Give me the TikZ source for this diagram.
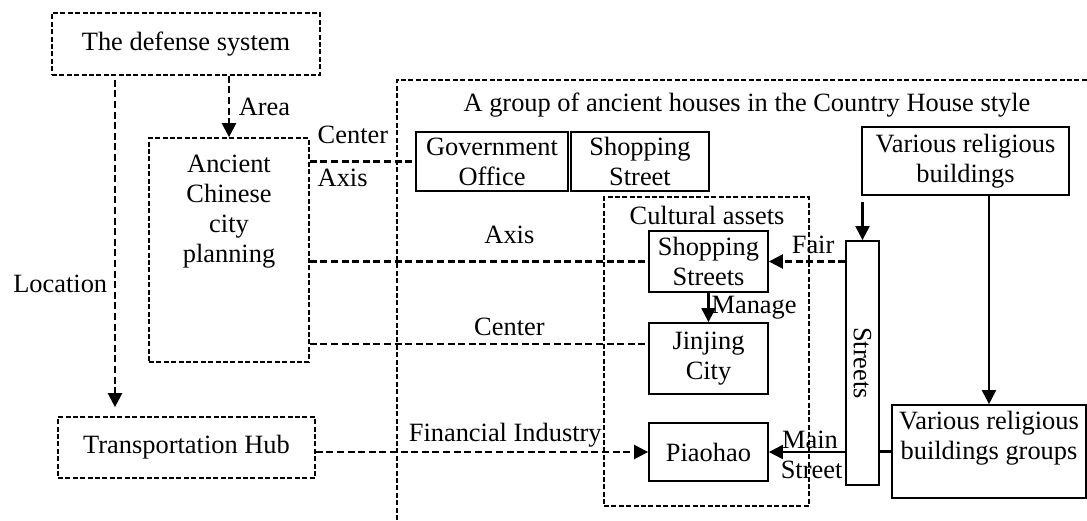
\documentclass[tikz,border=0pt]{standalone}
\usepackage{fontspec}
\setmainfont{Liberation Serif}
\usepackage{graphicx}
\usetikzlibrary{arrows.meta}
\tikzset{
    dashed frame/.style={line width=0.85pt, dash pattern=on 2.5pt off 1.2pt},
    dashed box/.style={draw, dashed frame, align=center, inner sep=0pt},
    solid box/.style={draw, line width=0.9pt, align=center, inner sep=0pt},
    dashed link/.style={line width=1.2pt, dash pattern=on 3.5pt off 1.8pt},
    solid link/.style={line width=1.1pt},
    arrow end/.style={-{Triangle[length=7pt,width=7pt]}},
}

\begin{document}
\begin{tikzpicture}[x=0.5pt, y=-0.5pt, font=\fontsize{13.2pt}{15pt}\selectfont]
    \useasboundingbox (0,0) rectangle (1087,520);
    % left column
    \node[dashed box, minimum width=134pt, minimum height=31pt] (defense) at (186,44) {The defense system};
    \node[dashed box, minimum width=128.5pt, minimum height=30.5pt] (hub) at (186.5,447.5) {Transportation Hub};
    \node[dashed box, minimum width=80pt, minimum height=112pt] (plan) at (229,250) {};
    \node[align=center] (plan text) at (229,212) {Ancient\\Chinese\\city\\planning};
    \coordinate (loc) at (115,0);
    \coordinate (center row) at (600,344);
    % the country house group
    \draw[dashed frame] (397,520) -- (397,80) -- (1087,80);
    \node (title) at (747,105) {A group of ancient houses in the Country House style};
    \node[solid box, minimum width=76pt, minimum height=29.5pt] (office) at (492,161.5) {Government\\Office};
    \node[solid box, minimum width=69pt, minimum height=29.5pt] (shop) at (640,161.5) {Shopping\\Street};
    \node[dashed box, minimum width=102.5pt, minimum height=154.5pt] (assets) at (706.5,351.5) {};
    \node (assets text) at (707,215) {Cultural assets};
    \node[solid box, minimum width=59.5pt, minimum height=30.5pt] (streets shop) at (708.5,261.5) {Shopping\\Streets};
    \node[solid box, minimum width=59.5pt, minimum height=35.5pt] (jinjing) at (708.5,358.5) {Jinjing\\City};
    \node[solid box, minimum width=59.5pt, minimum height=29pt] (piaohao) at (708.5,452) {Piaohao};
    \node[solid box, minimum width=16.5pt, minimum height=122pt] (streets) at (862.5,363) {\rotatebox{-90}{Streets}};
    \node[solid box, minimum width=103.5pt, minimum height=34pt] (religious) at (965.5,161) {Various religious\\buildings};
    \node[solid box, minimum width=97pt, minimum height=46.5pt] (groups) at (989,451.5) {};
    \node[align=center] (groups text) at (989,438) {Various religious\\buildings groups};
    \coordinate (into streets) at (862.5,202);

    % links
    \draw[dashed link, arrow end, shorten <=2pt, shorten >=4.5pt] (defense.south -| loc) -- node[left, pos=.61] {Location} (hub.north -| loc);
    \draw[dashed link, arrow end] (defense.south -| plan.north) -- node[right, pos=.5, xshift=1pt] {Area} (plan.north);
    \draw[dashed link] (plan.east |- office.west) -- (office.west)
        node[pos=0, above right, yshift=5pt] {Center} node[pos=0, below right] {Axis};
    \draw[dashed link] (plan.east |- streets shop.west) -- node[above=5pt, pos=.59] {Axis} (streets shop.west);
    \draw[dashed link] (plan.east |- center row) -- node[above, pos=.59] {Center} (jinjing.west |- center row);
    \draw[dashed link, arrow end] (hub.east |- piaohao.west) -- node[above, pos=.57, inner sep=2pt] {Financial Industry} (piaohao.west);
    \draw[solid link, arrow end] (streets shop.south) -- node[right, inner sep=1pt] {Manage} (jinjing.north);
    \draw[dashed link, arrow end] (streets.west |- streets shop.east) -- node[above, pos=.42] {Fair} (streets shop.east);
    \draw[solid link, arrow end] (streets.west |- piaohao.east) -- node[above, pos=.46, inner sep=1pt] {Main}
        node[below, pos=.44, inner sep=4pt] {Street} (piaohao.east);
    \draw[solid link, arrow end] (into streets) -- (streets.north);
    \draw[solid link, arrow end] (religious.south -| groups.north) -- (groups.north);
    \draw[solid link] (streets.east |- groups.west) -- (groups.west);
\end{tikzpicture}
\end{document}
